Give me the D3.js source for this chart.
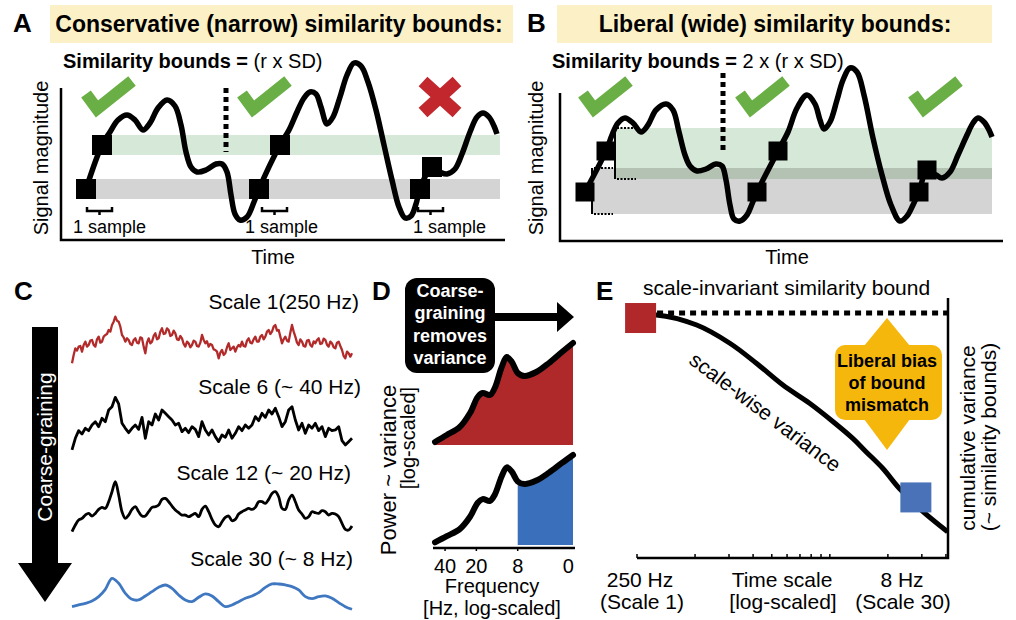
<!DOCTYPE html>
<html><head><meta charset="utf-8">
<script src="https://cdn.jsdelivr.net/npm/d3@7"></script>
<style>
html,body{margin:0;padding:0;background:#fff;}
svg{display:block;font-family:"Liberation Sans",Arial,Helvetica,sans-serif;}
</style></head><body>
<svg id="fig" width="1016" height="620"></svg>
<script>
// ---------- Panel A: conservative (narrow) bounds ----------
// signal: [time, magnitude]
const signalA = [[25,51],[41,95],[49,108],[57,120],[66,125],[74,120],[82,110],[89,117],[97,132],[106,140],[114,134],[120,115],[125,88],[130,73],[136,68],[145,70],[155,76],[161,76],[166,68],[170,45],[174,26],[179,20],[186,23],[193,38],[198,51],[219,95],[228,110],[236,128],[243,142],[249,148],[255,146],[260,133],[266,116],[272,123],[279,143],[286,165],[293,177],[300,174],[307,158],[315,130],[323,95],[331,60],[338,33],[344,22],[350,24],[355,36],[359,51],[371,73],[379,68],[386,66],[394,71],[401,86],[409,108],[416,123],[422,127],[428,123],[433,114],[436,106]];
const samplesA = [[25,51],[41,95],[198,51],[219,95],[359,51],[371,73]];
const templatesA = [[41,95],[25,51]];      // upper / lower template samples
const boundHalfA = 10;
const verdictsA = [[47,143,"ok"],[203,143,"ok"],[379,143,"fail"]];
const bracketsA = [[26,12],[201,184],[357,352]]; // [bracket start, label start]
const dividerA = [165, 152, 88];

// ---------- Panel B: liberal (wide) bounds ----------
const signalB = [[25,49],[46,90],[52,106],[58,118],[65,123],[73,118],[81,109],[88,116],[96,131],[106,137],[113,131],[119,109],[125,86],[130,75],[137,70],[146,72],[156,77],[162,75],[166,61],[170,36],[174,22],[180,20],[187,26],[192,37],[197,49],[218,90],[228,109],[237,133],[247,146],[255,137],[260,121],[264,112],[270,119],[277,141],[283,161],[290,173],[297,169],[304,146],[313,103],[322,66],[331,36],[340,20],[347,25],[353,36],[359,49],[367,71],[376,66],[382,63],[390,69],[398,86],[407,106],[413,118],[418,123],[424,119],[429,111],[432,104]];
const samplesB = [[25,49],[46,90],[197,49],[218,90],[359,49],[367,71]];
const templatesB = [[46,87.5],[25,50]];
const boundHalfB = [25.5, 23];
const verdictsB = [[45,144,"ok"],[202,144,"ok"],[375,144,"ok"]];
const dividerB = [163, 168, 91];

// ---------- Panel C: coarse-grained traces ----------
const scaleLabels = ["Scale 1(250 Hz)","Scale 6 (~ 40 Hz)","Scale 12 (~ 20 Hz)","Scale 30 (~ 8 Hz)"];
const trace1 = [0,25,45,38,50,52,35,55,65,50,55,68,70,55,50,72,80,62,65,80,85,88,100,95,115,125,140,128,125,110,85,78,65,75,70,58,55,70,75,62,60,78,75,50,30,62,75,60,65,82,90,72,75,95,105,88,90,105,100,82,85,98,90,72,70,82,75,58,50,65,60,48,55,68,65,52,50,62,85,70,60,66,50,58,55,42,40,35,15,32,40,25,30,48,60,40,45,50,35,48,55,50,65,52,50,68,75,62,60,72,80,65,65,80,85,72,80,95,100,88,95,110,115,98,100,80,60,72,80,68,65,92,115,95,80,62,55,72,65,52,50,68,70,55,50,66,60,70,75,58,60,74,70,56,50,65,60,48,45,62,65,52,40,22,15,35,30,20,30];
const trace6 = [420,385,362,372,355,362,345,335,350,325,335,300,290,262,282,340,355,368,355,345,358,322,385,335,345,312,330,300,310,320,330,345,340,365,355,368,350,358,380,335,360,375,360,380,395,375,382,360,385,370,350,362,345,355,345,320,332,310,322,300,312,295,320,350,335,300,290,330,360,340,370,345,355,340,362,350,380,355,362,360,350,392,405,395,385].map(d => 430 - d);
const trace12 = [185,165,150,145,135,130,138,130,118,112,115,95,65,35,75,125,145,135,118,110,125,138,138,125,112,110,105,88,85,95,108,120,128,135,135,140,135,130,140,118,108,125,148,165,170,155,142,138,152,148,132,125,120,115,118,112,95,95,100,88,70,65,80,115,118,90,75,95,120,132,145,140,125,128,130,122,125,135,130,132,140,160,178,180,168].map(d => 200 - d);
const trace30 = [410,405,400,393,380,358,325,340,370,388,390,378,365,352,345,355,375,390,395,382,372,378,395,410,405,395,385,378,368,352,342,342,345,350,360,380,386,380,378,385,398,410,418].map(d => 430 - d);

// ---------- Panel D: power spectrum ----------
const freqD = [50,38.5,28.9,23.0,19.4,17.4,14.8,13.3,11.4,10.2,9.1,8.0,6.9,5.3,4.0,3.0,2.35];
const powerD = [3,10,18,32,48,52,50,57,78,88,83,72,69,73,82,93,102];
const freqTicks = [40,20,8,2.6];
const freqTickLabels = ["40","20","8","0"];
const keptBelow = 8;

// ---------- Panel E: variance across time scales ----------
const scaleE = [1.05,1.26,2.04,3.03,4.16,5.71,7.85,10.4,13.15,15.4,18.8,22.9,29.1,40.8];
const varianceE = [93,93.5,89.6,82.6,74.9,66.5,59.5,52.4,46.0,40.9,34.5,26.8,19.1,10.1];
const boundE = 94.2;
const endpointsE = [[1.05,92.3,"#b0282a"],[28.1,23.3,"#4a72b8"]];
const tickE = [1,2,3,4,5,6,7,8,9,10,20,30,40];

const svg = d3.select("#fig");
svg.append("rect").attr("width",1016).attr("height",620).attr("fill","#fff");

function text(x, y, s, o = {}) {
  const t = svg.append("text").attr("x", x).attr("y", y)
    .attr("font-size", o.size || 20).attr("font-weight", o.bold ? "bold" : "normal")
    .attr("fill", o.fill || "#000").attr("text-anchor", o.anchor || "start").text(s);
  if (o.rotate !== undefined) t.attr("transform", `rotate(${o.rotate},${x},${y})`);
  return t;
}
function check(cx, cy) {
  svg.append("path").attr("d", `M${cx-22},${cy-3}L${cx-11},${cy+12}L${cx+24},${cy-16}`)
    .attr("fill","none").attr("stroke","#6aaf45").attr("stroke-width",12).attr("stroke-linejoin","miter");
}
function cross(cx, cy) {
  svg.append("path").attr("d", `M${cx-17},${cy-15.5}L${cx+17},${cy+15.5}M${cx-17},${cy+15.5}L${cx+17},${cy-15.5}`)
    .attr("stroke","#c1272d").attr("stroke-width",13);
}
const smooth = d3.curveCatmullRom.alpha(0.5);

// panel letters
[["A",13,32],["B",527,32],["C",14,300],["D",372,300],["E",596,300]].forEach(([l,x,y]) => text(x,y,l,{size:26,bold:true}));

// ===== Panel A =====
{
  const x = d3.scaleLinear().domain([0,444]).range([61,505]);
  const y = d3.scaleLinear().domain([0,152]).range([240,88]);
  svg.append("rect").attr("x",50).attr("y",5).attr("width",463).attr("height",38).attr("fill","#fcf0c6");
  text(279,32,"Conservative (narrow) similarity bounds:",{size:23,bold:true,anchor:"middle"});
  const st = text(63,68,"",{size:20});
  st.append("tspan").attr("font-weight","bold").text("Similarity bounds =");
  st.append("tspan").text(" (r x SD)");
  const bandColors = ["#d6e8d8","#d4d4d4"];
  templatesA.forEach((d,i) => {
    svg.append("rect").attr("x", x(d[0]) - 10).attr("y", y(d[1] + boundHalfA))
      .attr("width", x(439) - x(d[0]) + 10).attr("height", y(d[1] - boundHalfA) - y(d[1] + boundHalfA))
      .attr("fill", bandColors[i]);
  });
  svg.append("path").attr("d", `M${x(0)},${y(152)}V${y(0)}H${x(444)}`).attr("fill","none").attr("stroke","#000").attr("stroke-width",2.5);
  svg.append("line").attr("x1",x(dividerA[0])).attr("x2",x(dividerA[0])).attr("y1",y(dividerA[1])).attr("y2",y(dividerA[2]))
    .attr("stroke","#000").attr("stroke-width",5).attr("stroke-dasharray","5,4");
  svg.append("path").datum(signalA).attr("d", d3.line().x(d=>x(d[0])).y(d=>y(d[1])).curve(smooth))
    .attr("fill","none").attr("stroke","#000").attr("stroke-width",5.5).attr("stroke-linejoin","round");
  samplesA.forEach(d => svg.append("rect").attr("x",x(d[0])-10).attr("y",y(d[1])-10).attr("width",20).attr("height",20).attr("fill","#000"));
  verdictsA.forEach(d => d[2] === "ok" ? check(x(d[0]), y(d[1])) : cross(x(d[0]), y(d[1])));
  bracketsA.forEach(d => {
    const b = x(d[0]);
    svg.append("path").attr("d",`M${b},207V211H${b+25}V207M${b+12.5},211V215`).attr("fill","none").attr("stroke","#000").attr("stroke-width",2.5);
    text(x(d[1]),233,"1 sample",{size:18});
  });
  text(48,158,"Signal magnitude",{size:20,anchor:"middle",rotate:-90});
  text(273,264,"Time",{size:20,anchor:"middle"});
}

// ===== Panel B =====
{
  const x = d3.scaleLinear().domain([0,443]).range([560,1003]);
  const y = d3.scaleLinear().domain([0,148]).range([241,93]);
  svg.append("rect").attr("x",557).attr("y",5).attr("width",435).attr("height",38).attr("fill","#fcf0c6");
  text(775,32,"Liberal (wide) similarity bounds:",{size:23,bold:true,anchor:"middle"});
  const st = text(552,68,"",{size:20});
  st.append("tspan").attr("font-weight","bold").text("Similarity bounds =");
  st.append("tspan").text(" 2 x (r x SD)");
  const end = x(432);
  const [up, lo] = templatesB;
  const gx = x(up[0]) + 9, lx = x(lo[0]) + 7;
  const g0 = y(up[1] + boundHalfB[0]), g1 = y(up[1] - boundHalfB[0]);
  const l0 = y(lo[1] + boundHalfB[1]), l1 = y(lo[1] - boundHalfB[1]);
  svg.append("rect").attr("x",gx).attr("y",g0).attr("width",end-gx).attr("height",g1-g0).attr("fill","#d6e8d8");
  svg.append("rect").attr("x",lx).attr("y",l0).attr("width",end-lx).attr("height",l1-l0).attr("fill","#d4d4d4");
  svg.append("rect").attr("x",gx).attr("y",l0).attr("width",end-gx).attr("height",g1-l0).attr("fill","#b4c2b3");
  // bound markers
  [[gx,g0,g1],[lx,l0,l1]].forEach(([bx,t0,t1]) => {
    svg.append("line").attr("x1",bx).attr("x2",bx).attr("y1",t0).attr("y2",t1).attr("stroke","#000").attr("stroke-width",2);
    [t0,t1].forEach(t => svg.append("line").attr("x1",bx+2).attr("x2",bx+21).attr("y1",t).attr("y2",t)
      .attr("stroke","#000").attr("stroke-width",2).attr("stroke-dasharray","2,1.5"));
  });
  svg.append("path").attr("d", `M${x(0)},${y(148)}V${y(0)}H${x(443)}`).attr("fill","none").attr("stroke","#000").attr("stroke-width",2.5);
  svg.append("line").attr("x1",x(dividerB[0])).attr("x2",x(dividerB[0])).attr("y1",y(dividerB[1])).attr("y2",y(dividerB[2]))
    .attr("stroke","#000").attr("stroke-width",5).attr("stroke-dasharray","5,4");
  svg.append("path").datum(signalB).attr("d", d3.line().x(d=>x(d[0])).y(d=>y(d[1])).curve(smooth))
    .attr("fill","none").attr("stroke","#000").attr("stroke-width",5.5).attr("stroke-linejoin","round");
  samplesB.forEach(d => svg.append("rect").attr("x",x(d[0])-9.5).attr("y",y(d[1])-9.5).attr("width",19).attr("height",19).attr("fill","#000"));
  verdictsB.forEach(d => check(x(d[0]), y(d[1])));
  text(543,158,"Signal magnitude",{size:20,anchor:"middle",rotate:-90});
  text(787,264,"Time",{size:20,anchor:"middle"});
}

// ===== Panel C =====
{
  svg.append("path").attr("d","M32,327H58V563H72L45,602L18,563H32Z").attr("fill","#000");
  text(52,447,"Coarse-graining",{size:21,anchor:"middle",fill:"#fff",rotate:-90});
  const traces = [trace1, trace6, trace12, trace30];
  const baselines = [363.3, 453.3, 536.7, 613.3];
  const colors = ["#b22a2a","#000","#000","#3f78c1"];
  const widths = [2.3, 2.8, 2.8, 2.8];
  const labelY = [309, 394, 480, 566];
  const labelX = [359, 361, 351, 353];
  const amp = d3.scaleLinear().domain([0,160]).range([0,-53.3]);
  traces.forEach((tr,i) => {
    const x = d3.scaleLinear().domain([0, tr.length-1]).range([72,352]);
    svg.append("path").datum(tr)
      .attr("d", d3.line().x((d,j)=>x(j)).y(d=>baselines[i]+amp(d)).curve(i < 2 ? d3.curveLinear : smooth))
      .attr("fill","none").attr("stroke",colors[i]).attr("stroke-width",widths[i]).attr("stroke-linejoin","round");
    text(labelX[i], labelY[i], scaleLabels[i], {size:21, anchor:"end"});
  });
}

// ===== Panel D =====
{
  const x = d3.scaleLog().domain([50,2.35]).range([435,573]);
  const yTop = d3.scaleLinear().domain([0,102]).range([445,343]);
  const yBot = d3.scaleLinear().domain([0,102]).range([545,455]);
  const pts = freqD.map((f,i) => [f, powerD[i]]);
  svg.append("rect").attr("x",405).attr("y",278).attr("width",90).attr("height",95).attr("rx",12).attr("fill","#000");
  ["Coarse-","graining","removes","variance"].forEach((s,i) => text(450, 297+i*22.3, s, {size:18,bold:true,fill:"#fff",anchor:"middle"}));
  svg.append("path").attr("d","M495,313H557V302L574,317L557,332V321H495Z").attr("fill","#000");
  // full spectrum
  svg.append("path").datum(pts).attr("d", d3.area().x(d=>x(d[0])).y0(yTop(0)).y1(d=>yTop(d[1])).curve(smooth)).attr("fill","#b0292a");
  svg.append("path").datum(pts).attr("d", d3.line().x(d=>x(d[0])).y(d=>yTop(d[1])).curve(smooth))
    .attr("fill","none").attr("stroke","#000").attr("stroke-width",6).attr("stroke-linecap","round");
  // spectrum after coarse-graining: only the low frequencies keep their variance
  svg.append("clipPath").attr("id","keep").append("rect").attr("x",x(keptBelow)).attr("y",400).attr("width",x(2.35)-x(keptBelow)+2).attr("height",150);
  svg.append("path").datum(pts).attr("clip-path","url(#keep)")
    .attr("d", d3.area().x(d=>x(d[0])).y0(yBot(0)).y1(d=>yBot(d[1])).curve(smooth)).attr("fill","#3a70bb");
  svg.append("path").datum(pts).attr("d", d3.line().x(d=>x(d[0])).y(d=>yBot(d[1])).curve(smooth))
    .attr("fill","none").attr("stroke","#000").attr("stroke-width",6).attr("stroke-linecap","round");
  const ax = svg.append("g").attr("transform","translate(0,548)");
  ax.append("line").attr("x1",433).attr("x2",575).attr("stroke","#000").attr("stroke-width",2.5);
  freqTicks.slice(0,3).forEach(f => ax.append("line").attr("x1",x(f)).attr("x2",x(f)).attr("y1",0).attr("y2",3).attr("stroke","#000").attr("stroke-width",1.5));
  freqTicks.forEach((f,i) => text(x(f), 573, freqTickLabels[i], {size:20, anchor:"middle"}));
  text(492,593,"Frequency",{size:20,anchor:"middle"});
  text(492,615,"[Hz, log-scaled]",{size:20,anchor:"middle"});
  text(396,470,"Power ~ variance",{size:22,anchor:"middle",rotate:-90});
  text(415,438,"[log-scaled]",{size:20,anchor:"middle",rotate:-90});
}

// ===== Panel E =====
{
  const x = d3.scaleLog().domain([1,41]).range([637,948]);
  const y = d3.scaleLinear().domain([0,100]).range([558,298]);
  text(643,295,"scale-invariant similarity bound",{size:21});
  svg.append("path").attr("d",`M${x(1)},${y(0)}H${x(41)}V${y(100)}`).attr("fill","none").attr("stroke","#000").attr("stroke-width",2.5);
  tickE.forEach(t => svg.append("line").attr("x1",x(t)).attr("x2",x(t)).attr("y1",y(0)).attr("y2",y(0)-4).attr("stroke","#000").attr("stroke-width",1.5));
  svg.append("line").attr("x1",x(1.05)+16).attr("x2",x(41)).attr("y1",y(boundE)).attr("y2",y(boundE))
    .attr("stroke","#000").attr("stroke-width",5).attr("stroke-dasharray","6,5");
  svg.append("path").datum(scaleE.map((s,i)=>[s,varianceE[i]]))
    .attr("d", d3.line().x(d=>x(d[0])).y(d=>y(d[1])).curve(smooth))
    .attr("fill","none").attr("stroke","#000").attr("stroke-width",5);
  endpointsE.forEach(([s,v,c]) => svg.append("rect").attr("x",x(s)-16).attr("y",y(v)-15).attr("width",31).attr("height",30).attr("fill",c));
  text(761,418,"scale-wise variance",{size:21,anchor:"middle",rotate:37});
  // callout
  const cx = 887;
  svg.append("path").attr("d",`M${cx},318L${cx+23},346H${cx-23}Z M${cx},450L${cx+23},419H${cx-23}Z`).attr("fill","#f6b70c");
  svg.append("rect").attr("x",835).attr("y",345).attr("width",107).attr("height",75).attr("rx",10).attr("fill","#f6b70c");
  ["Liberal bias","of bound","mismatch"].forEach((s,i) => text(cx, 367+i*22, s, {size:18,bold:true,anchor:"middle"}));
  text(975,438,"cumulative variance",{size:21,anchor:"middle",rotate:-90});
  text(996,437,"(~ similarity bounds)",{size:21,anchor:"middle",rotate:-90});
  text(640,587,"250 Hz",{size:21,anchor:"middle"});
  text(642,609,"(Scale 1)",{size:21,anchor:"middle"});
  text(782,587,"Time scale",{size:21,anchor:"middle"});
  text(783,609,"[log-scaled]",{size:21,anchor:"middle"});
  text(902,587,"8 Hz",{size:21,anchor:"middle"});
  text(903,609,"(Scale 30)",{size:21,anchor:"middle"});
}
</script>
</body></html>
